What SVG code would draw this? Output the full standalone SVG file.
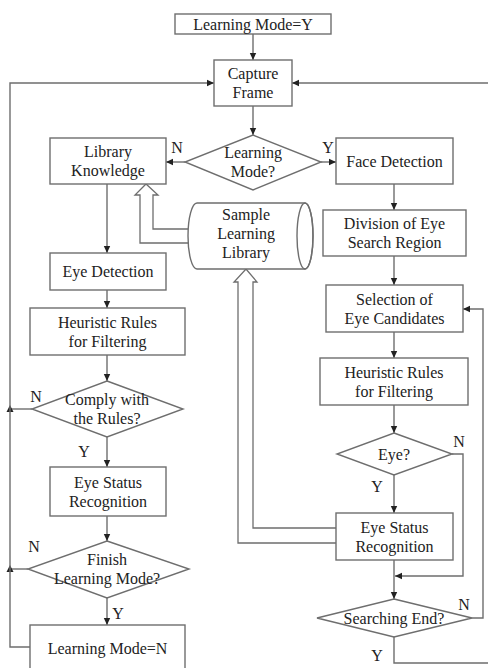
<svg xmlns="http://www.w3.org/2000/svg" width="488" height="668" viewBox="0 0 488 668">
<defs>
<marker id="ah" markerWidth="8" markerHeight="8" refX="7" refY="4" orient="auto" markerUnits="userSpaceOnUse">
<path d="M0,0.8 L7,4 L0,7.2 Z" fill="#222"/>
</marker>
<style>
.b{fill:#fff;stroke:#6e6e6e;stroke-width:1.4}
.c{fill:none;stroke:#6e6e6e;stroke-width:1.4}
.h{fill:#fff;stroke:#6e6e6e;stroke-width:1.3}
text{font-family:"Liberation Serif","Times New Roman",serif;font-size:16px;fill:#222;text-anchor:middle}
</style>
</defs>
<rect width="488" height="668" fill="#fff"/>
<g id="connectors">
<line class="c" x1="253" y1="34" x2="253" y2="60" marker-end="url(#ah)"/>
<line class="c" x1="253" y1="106" x2="253" y2="135" marker-end="url(#ah)"/>
<line class="c" x1="185" y1="162" x2="166" y2="162" marker-end="url(#ah)"/>
<line class="c" x1="321" y1="162" x2="336" y2="162" marker-end="url(#ah)"/>
<line class="c" x1="394" y1="184" x2="394" y2="210" marker-end="url(#ah)"/>
<line class="c" x1="394" y1="256" x2="394" y2="285" marker-end="url(#ah)"/>
<line class="c" x1="394" y1="332" x2="394" y2="358" marker-end="url(#ah)"/>
<line class="c" x1="394" y1="405" x2="394" y2="433" marker-end="url(#ah)"/>
<line class="c" x1="394" y1="475" x2="394" y2="513" marker-end="url(#ah)"/>
<line class="c" x1="394" y1="560" x2="394" y2="599" marker-end="url(#ah)"/>
<polyline class="c" points="452,454 463,454 463,576 395,576" marker-end="url(#ah)"/>
<polyline class="c" points="472,618 483,618 483,309 463,309" marker-end="url(#ah)"/>
<polyline class="c" points="394,637 394,663 490,663"/>
<line class="c" x1="490" y1="83" x2="292" y2="83" marker-end="url(#ah)"/>
<line class="c" x1="107" y1="184" x2="107" y2="253" marker-end="url(#ah)"/>
<line class="c" x1="107" y1="290" x2="107" y2="308" marker-end="url(#ah)"/>
<line class="c" x1="107" y1="355" x2="107" y2="381" marker-end="url(#ah)"/>
<line class="c" x1="107" y1="437" x2="107" y2="467" marker-end="url(#ah)"/>
<line class="c" x1="107" y1="516" x2="107" y2="541" marker-end="url(#ah)"/>
<line class="c" x1="107" y1="598" x2="107" y2="625" marker-end="url(#ah)"/>
<line class="c" x1="32" y1="409" x2="10" y2="409"/>
<path d="M10,405 L13.5,412 L6.5,412 Z" fill="#222"/>
<line class="c" x1="28" y1="569" x2="10" y2="569"/>
<path d="M10,565 L13.5,572 L6.5,572 Z" fill="#222"/>
<polyline class="c" points="30,647 10,647 10,83 214,83" marker-end="url(#ah)"/>
<polyline class="h" points="191,229 153,229 153,195 158,195 146,184 135,195 140,195 140,243 191,243"/>
<polyline class="h" points="337,528 253,528 253,282 257,282 246,269 234,282 238,282 238,543 337,543"/>
</g>
<g id="n_lmy"><rect class="b" x="175" y="14" width="156" height="20"/><text x="253" y="29.5">Learning Mode=Y</text></g>
<g id="n_capture"><rect class="b" x="214" y="60" width="78" height="46"/><text x="253" y="79">Capture</text><text x="253" y="98">Frame</text></g>
<g id="n_lm_q"><polygon class="b" points="253,135 321,162 253,190 185,162"/><text x="253" y="158">Learning</text><text x="253" y="177">Mode?</text><text x="177" y="153">N</text><text x="328" y="153">Y</text></g>
<g id="n_libknow"><rect class="b" x="50" y="138" width="116" height="46"/><text x="108" y="157">Library</text><text x="108" y="176">Knowledge</text></g>
<g id="n_face"><rect class="b" x="336" y="138" width="117" height="46"/><text x="394.5" y="166.5">Face Detection</text></g>
<g id="n_sample"><path class="b" d="M197,203 L305,203 A8,33 0 0 1 305,269 L197,269 A9,33 0 0 1 197,203 Z"/><ellipse class="c" cx="305" cy="236" rx="8" ry="33"/><text x="246" y="220">Sample</text><text x="246" y="239">Learning</text><text x="246" y="258">Library</text></g>
<g id="n_division"><rect class="b" x="323" y="210" width="143" height="46"/><text x="394.5" y="229">Division of Eye</text><text x="394.5" y="248">Search Region</text></g>
<g id="n_eyedet"><rect class="b" x="50" y="253" width="116" height="37"/><text x="108" y="277">Eye Detection</text></g>
<g id="n_selection"><rect class="b" x="326" y="285" width="137" height="47"/><text x="394.5" y="304.5">Selection of</text><text x="394.5" y="323.5">Eye Candidates</text></g>
<g id="n_heurL"><rect class="b" x="30" y="308" width="155" height="47"/><text x="107.5" y="327.5">Heuristic Rules</text><text x="107.5" y="346.5">for Filtering</text></g>
<g id="n_heurR"><rect class="b" x="320" y="358" width="148" height="47"/><text x="394" y="377.5">Heuristic Rules</text><text x="394" y="396.5">for Filtering</text></g>
<g id="n_comply"><polygon class="b" points="107,381 183,409 107,437 32,409"/><text x="107" y="405">Comply with</text><text x="107" y="424">the Rules?</text><text x="36" y="402">N</text><text x="84" y="457">Y</text></g>
<g id="n_eyeq"><polygon class="b" points="394,433 452,454 394,475 337,454"/><text x="394" y="459.5">Eye?</text><text x="459" y="447">N</text><text x="377" y="492">Y</text></g>
<g id="n_esrL"><rect class="b" x="50" y="467" width="116" height="49"/><text x="108" y="487.5">Eye Status</text><text x="108" y="506.5">Recognition</text></g>
<g id="n_esrR"><rect class="b" x="336" y="513" width="117" height="47"/><text x="394.5" y="532.5">Eye Status</text><text x="394.5" y="551.5">Recognition</text></g>
<g id="n_finish"><polygon class="b" points="107,541 189,569 107,598 28,569"/><text x="107" y="565">Finish</text><text x="107" y="584">Learning Mode?</text><text x="34" y="552">N</text><text x="118" y="619">Y</text></g>
<g id="n_search"><polygon class="b" points="394,599 472,618 394,637 317,618"/><text x="394" y="623.5">Searching End?</text><text x="464" y="610">N</text><text x="377" y="661">Y</text></g>
<g id="n_lmn"><rect class="b" x="30" y="625" width="155" height="50"/><text x="107.5" y="654">Learning Mode=N</text></g>
</svg>
